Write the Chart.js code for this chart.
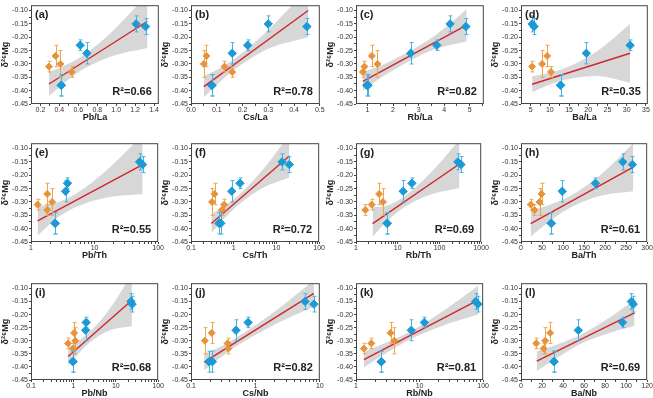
<!DOCTYPE html>
<html>
<head>
<meta charset="utf-8">
<script src="https://cdn.jsdelivr.net/npm/chart.js@4.4.0/dist/chart.umd.min.js"></script>
<style>
html, body { margin: 0; padding: 0; background: #fff; overflow: hidden; width: 653px; height: 398px; }
canvas { position: absolute; }
</style>
</head>
<body>
<script>
// delta26Mg of the two sample groups (same samples in every panel)
const orangeY   = [-0.31, -0.27, -0.30, -0.33];
const orangeErr = [0.02, 0.04, 0.05, 0.02];
const blueY     = [-0.38, -0.23, -0.26, -0.15, -0.16, -0.38];
const blueErr   = [0.04, 0.02, 0.04, 0.03, 0.03, 0.04];

const panelTags = ['(a)', '(b)', '(c)', '(d)', '(e)', '(f)', '(g)', '(h)', '(i)', '(j)', '(k)', '(l)'];
const xTitles = ['Pb/La', 'Cs/La', 'Rb/La', 'Ba/La', 'Pb/Th', 'Cs/Th', 'Rb/Th', 'Ba/Th', 'Pb/Nb', 'Cs/Nb', 'Rb/Nb', 'Ba/Nb'];
const r2Text = ['R²=0.66', 'R²=0.78', 'R²=0.82', 'R²=0.35', 'R²=0.55', 'R²=0.72', 'R²=0.69', 'R²=0.61', 'R²=0.68', 'R²=0.82', 'R²=0.81', 'R²=0.69'];

const xLog = [false, false, false, false, true, true, true, false, true, true, true, false];
const xRanges = [[0.1, 1.45], [0, 0.5], [0.55, 5.55], [2.5, 35.5], [1, 100], [0.1, 100], [1, 1000], [0, 300], [0.1, 100], [0.1, 10], [1, 100], [0, 120]];
const xMajor = [
  [0.2, 0.4, 0.6, 0.8, 1.0, 1.2, 1.4],
  [0, 0.1, 0.2, 0.3, 0.4, 0.5],
  [1, 2, 3, 4, 5],
  [5, 10, 15, 20, 25, 30, 35],
  [1, 10, 100],
  [0.1, 1, 10, 100],
  [1, 10, 100, 1000],
  [0, 50, 100, 150, 200, 250, 300],
  [0.1, 1, 10, 100],
  [0.1, 1, 10],
  [1, 10, 100],
  [0, 20, 40, 60, 80, 100, 120]
];
const xMajorText = [
  ['0.2', '0.4', '0.6', '0.8', '1.0', '1.2', '1.4'],
  ['0.0', '0.1', '0.2', '0.3', '0.4', '0.5'],
  ['1', '2', '3', '4', '5'],
  ['5', '10', '15', '20', '25', '30', '35'],
  ['1', '10', '100'],
  ['0.1', '1', '10', '100'],
  ['1', '10', '100', '1000'],
  ['0', '50', '100', '150', '200', '250', '300'],
  ['0.1', '1', '10', '100'],
  ['0.1', '1', '10'],
  ['1', '10', '100'],
  ['0', '20', '40', '60', '80', '100', '120']
];

const yMajor = [-0.45, -0.40, -0.35, -0.30, -0.25, -0.20, -0.15, -0.10];
const yMajorText = ['-0.45', '-0.40', '-0.35', '-0.30', '-0.25', '-0.20', '-0.15', '-0.10'];

// x of each sample per panel
const orangeX = [
  [0.29, 0.36, 0.41, 0.53],
  [0.13, 0.06, 0.05, 0.16],
  [0.88, 1.17, 1.39, 0.82],
  [5.4, 9.3, 8.0, 10.3],
  [1.27, 1.8, 2.15, 1.8],
  [0.6, 0.355, 0.31, 0.53],
  [2.38, 3.58, 4.42, 1.67],
  [23, 49, 44, 32],
  [0.75, 1.04, 1.11, 0.98],
  [0.37, 0.21, 0.164, 0.38],
  [1.74, 3.5, 4.0, 1.33],
  [14.5, 27.7, 23, 21.5]
];
const blueX = [
  [0.42, 0.62, 0.69, 1.21, 1.31, 0.42],
  [0.081, 0.22, 0.16, 0.30, 0.45, 0.081],
  [0.97, 3.71, 2.69, 4.23, 4.85, 1.02],
  [12.8, 30.9, 19.5, 5.4, 5.9, 12.8],
  [2.4, 3.75, 3.5, 51, 57, 2.4],
  [0.45, 1.4, 0.9, 13.5, 20, 0.5],
  [5.6, 21.8, 13.5, 275, 327, 5.6],
  [72, 177, 98, 242, 265, 72],
  [0.98, 2.0, 1.95, 22.8, 24.3, 0.98],
  [0.19, 0.77, 0.5, 5.9, 8.1, 0.215],
  [2.5, 11.9, 7.4, 76, 83, 2.5],
  [31.4, 96.6, 54.5, 105, 106.8, 31.4]
];

// fit line end points [x0, y0, x1, y1]
const fitLine = [
  [0.29, -0.375, 1.33, -0.14],
  [0.05, -0.385, 0.455, -0.10],
  [0.82, -0.365, 4.88, -0.155],
  [5.4, -0.376, 30.9, -0.26],
  [1.27, -0.371, 57, -0.16],
  [0.3, -0.381, 20, -0.128],
  [2.5, -0.381, 300, -0.158],
  [23, -0.381, 267, -0.17],
  [0.75, -0.36, 24, -0.145],
  [0.16, -0.382, 8.1, -0.119],
  [1.33, -0.372, 83, -0.145],
  [15, -0.378, 108, -0.193]
];

// confidence band
const bandX = [
  [0.29, 0.45, 0.65, 0.95, 1.33],
  [0.05, 0.12, 0.19, 0.3, 0.455],
  [0.82, 1.6, 2.5, 3.6, 4.88],
  [5.4, 10, 14, 22, 30.9],
  [1.27, 2.5, 5, 15, 57],
  [0.3, 0.7, 1.5, 5, 20],
  [2.5, 6, 15, 60, 300],
  [23, 70, 120, 190, 267],
  [0.75, 1.3, 2.5, 7, 24],
  [0.16, 0.3, 0.6, 2, 8.1],
  [1.33, 3, 7, 20, 83],
  [15, 35, 60, 85, 108]
];
const bandHi = [
  [-0.33, -0.307, -0.268, -0.181, -0.04],
  [-0.345, -0.311, -0.266, -0.173, -0.015],
  [-0.33, -0.303, -0.26, -0.196, -0.095],
  [-0.346, -0.333, -0.315, -0.255, -0.15],
  [-0.316, -0.303, -0.27, -0.184, -0.05],
  [-0.346, -0.308, -0.266, -0.176, -0.048],
  [-0.32, -0.312, -0.278, -0.193, -0.068],
  [-0.333, -0.31, -0.275, -0.197, -0.08],
  [-0.325, -0.301, -0.265, -0.181, -0.045],
  [-0.35, -0.32, -0.276, -0.188, -0.069],
  [-0.342, -0.307, -0.266, -0.198, -0.09],
  [-0.34, -0.313, -0.27, -0.209, -0.143]
];
const bandLo = [
  [-0.42, -0.371, -0.32, -0.271, -0.24],
  [-0.425, -0.361, -0.306, -0.243, -0.2],
  [-0.40, -0.347, -0.296, -0.246, -0.215],
  [-0.406, -0.377, -0.359, -0.345, -0.37],
  [-0.426, -0.363, -0.32, -0.284, -0.27],
  [-0.416, -0.352, -0.302, -0.246, -0.208],
  [-0.43, -0.368, -0.318, -0.273, -0.248],
  [-0.429, -0.37, -0.319, -0.277, -0.26],
  [-0.395, -0.351, -0.305, -0.261, -0.245],
  [-0.414, -0.36, -0.31, -0.238, -0.169],
  [-0.402, -0.347, -0.296, -0.248, -0.2],
  [-0.416, -0.363, -0.306, -0.269, -0.243]
];

const colLeft = [31, 191, 356, 521];
const colW = [130, 131, 130, 129];
const rowTop = [2, 140, 280];
const rowH = [102, 102, 100];
const Y_AXIS_W = 31, X_AXIS_H = 19, PAD_TOP = 2, PAD_RIGHT = 3;

const FONT = '"Liberation Sans", Arial, sans-serif';
const ORANGE = '#e8923a', ORANGE_ERR = '#eda64f';
const BLUE = '#1b9ad6', BLUE_ERR = '#44b3e4';

const errorBars = {
  id: 'errorBars',
  beforeDatasetDraw(chart, args) {
    const ds = chart.data.datasets[args.index];
    if (!ds.errs) return;
    const ys = chart.scales.y, ctx = chart.ctx;
    ctx.save();
    ctx.strokeStyle = ds.errColor;
    ctx.lineWidth = 1;
    args.meta.data.forEach((pt, k) => {
      const v = ds.data[k].y, e = ds.errs[k];
      const x = Math.round(pt.x) + 0.5;
      const y1 = ys.getPixelForValue(v + e), y2 = ys.getPixelForValue(v - e);
      ctx.beginPath();
      ctx.moveTo(x, y1); ctx.lineTo(x, y2);
      ctx.moveTo(x - 2, y1); ctx.lineTo(x + 2, y1);
      ctx.moveTo(x - 2, y2); ctx.lineTo(x + 2, y2);
      ctx.stroke();
    });
    ctx.restore();
  }
};

const panelDecor = {
  id: 'panelDecor',
  afterDraw(chart, args, opts) {
    const a = chart.chartArea, ctx = chart.ctx;
    ctx.save();
    ctx.strokeStyle = '#444';
    ctx.lineWidth = 1;
    ctx.strokeRect(a.left + 0.5, a.top + 0.5, a.right - a.left - 1, a.bottom - a.top - 1);
    ctx.fillStyle = '#222';
    ctx.textBaseline = 'middle';
    ctx.textAlign = 'left';
    ctx.font = 'bold 11px ' + FONT;
    ctx.fillText(opts.tag, a.left + 4, a.top + 10);
    ctx.textAlign = 'right';
    ctx.font = 'bold 11px ' + FONT;
    ctx.fillText(opts.r2, a.right - 7, a.bottom - 12);
    ctx.restore();
  }
};

function minorTicks(i) {
  const [lo, hi] = xRanges[i];
  const out = [];
  if (xLog[i]) {
    for (let d = Math.floor(Math.log10(lo)); d < Math.log10(hi); d++) {
      for (let m = 2; m <= 9; m++) {
        const v = m * Math.pow(10, d);
        if (v > lo && v < hi) out.push(v);
      }
    }
  } else {
    const maj = xMajor[i], step = maj[1] - maj[0];
    for (let v = maj[0] - step / 2; v < hi; v += step) {
      if (v > lo) out.push(v);
    }
  }
  return out;
}

const yMinor = yMajor.slice(0, -1).map(v => v + 0.025);

function makePanel(i) {
  const r = Math.floor(i / 4), c = i % 4;
  const w = Y_AXIS_W + colW[c] + PAD_RIGHT;
  const h = PAD_TOP + rowH[r] + X_AXIS_H;
  const cv = document.createElement('canvas');
  cv.width = w; cv.height = h;
  cv.style.width = w + 'px'; cv.style.height = h + 'px';
  cv.style.left = (colLeft[c] - Y_AXIS_W) + 'px';
  cv.style.top = (rowTop[r] - PAD_TOP) + 'px';
  document.body.appendChild(cv);

  const xTicks = xMajor[i].concat(minorTicks(i)).sort((p, q) => p - q);
  const fl = fitLine[i];

  new Chart(cv, {
    type: 'scatter',
    data: {
      datasets: [
        {
          data: bandX[i].map((x, k) => ({ x, y: bandHi[i][k] })),
          showLine: true, fill: '+1', backgroundColor: 'rgba(200,200,200,0.72)',
          borderColor: 'rgba(0,0,0,0)', borderWidth: 0, pointRadius: 0,
          cubicInterpolationMode: 'monotone', order: 4
        },
        {
          data: bandX[i].map((x, k) => ({ x, y: bandLo[i][k] })),
          showLine: true, borderColor: 'rgba(0,0,0,0)', borderWidth: 0, pointRadius: 0,
          cubicInterpolationMode: 'monotone', order: 3
        },
        {
          data: [{ x: fl[0], y: fl[1] }, { x: fl[2], y: fl[3] }],
          showLine: true, borderColor: '#d0262c', borderWidth: 1.4, pointRadius: 0, order: 2
        },
        {
          data: orangeX[i].map((x, k) => ({ x, y: orangeY[k] })),
          errs: orangeErr, errColor: ORANGE_ERR,
          pointStyle: 'rectRot', pointRadius: 3.5, backgroundColor: ORANGE, borderColor: ORANGE,
          borderWidth: 1, order: 1
        },
        {
          data: blueX[i].map((x, k) => ({ x, y: blueY[k] })),
          errs: blueErr, errColor: BLUE_ERR,
          pointStyle: 'rectRot', pointRadius: 4.2, backgroundColor: BLUE, borderColor: BLUE,
          borderWidth: 1, order: 0
        }
      ]
    },
    options: {
      responsive: false,
      animation: false,
      events: [],
      layout: { padding: { top: PAD_TOP, right: PAD_RIGHT, left: 0, bottom: 0 } },
      plugins: {
        legend: { display: false },
        tooltip: { enabled: false },
        panelDecor: { tag: panelTags[i], r2: r2Text[i] }
      },
      scales: {
        x: {
          type: xLog[i] ? 'logarithmic' : 'linear',
          min: xRanges[i][0], max: xRanges[i][1],
          afterBuildTicks: s => { s.ticks = xTicks.map(v => ({ value: v })); },
          afterFit: s => { s.height = X_AXIS_H; },
          border: { display: false },
          grid: { drawOnChartArea: false, drawTicks: true, tickLength: 2, color: '#444' },
          ticks: {
            autoSkip: false, maxRotation: 0, minRotation: 0, padding: 0,
            color: '#333', font: { size: 7, family: FONT },
            callback: v => {
              const k = xMajor[i].findIndex(m => Math.abs(m - v) < 1e-9 * Math.max(1, Math.abs(m)));
              return k >= 0 ? xMajorText[i][k] : '';
            }
          },
          title: {
            display: true, text: xTitles[i], color: '#222', padding: 0,
            font: { size: 9, weight: 'bold', family: FONT }
          }
        },
        y: {
          min: -0.45, max: -0.08,
          afterBuildTicks: s => { s.ticks = yMajor.concat(yMinor).sort((p, q) => p - q).map(v => ({ value: v })); },
          afterFit: s => { s.width = Y_AXIS_W; },
          border: { display: false },
          grid: { drawOnChartArea: false, drawTicks: true, tickLength: 2, color: '#444' },
          ticks: {
            autoSkip: false, padding: 1, color: '#333', font: { size: 7, family: FONT },
            callback: v => {
              const k = yMajor.findIndex(m => Math.abs(m - v) < 1e-9);
              return k >= 0 ? yMajorText[k] : '';
            }
          },
          title: {
            display: true, text: 'δ²⁶Mg', color: '#222', padding: 0,
            font: { size: 9, weight: 'bold', family: FONT }
          }
        }
      }
    },
    plugins: [errorBars, panelDecor]
  });
}

for (let i = 0; i < 12; i++) makePanel(i);
</script>
</body>
</html>
